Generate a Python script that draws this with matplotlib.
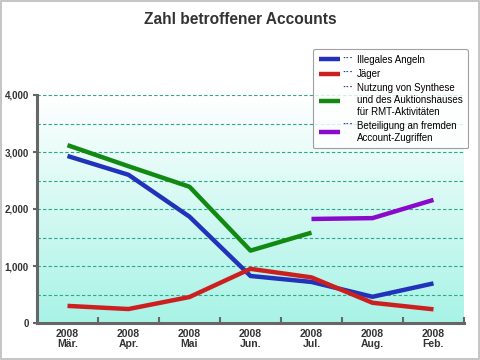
import matplotlib
matplotlib.use('Agg')
import matplotlib.pyplot as plt
import numpy as np
from matplotlib.patches import Rectangle

# data
months = ['2008\nMär.', '2008\nApr.', '2008\nMai', '2008\nJun.', '2008\nJul.', '2008\nAug.', '2008\nFeb.']
angeln = [2930, 2600, 1865, 825, 720, 460, 695]
jaeger = [300, 245, 456, 950, 800, 355, 240]
rmt = [3120, 2750, 2390, 1270, 1585, np.nan, np.nan]
zugriff = [np.nan, np.nan, np.nan, np.nan, 1825, 1840, 2160]
labels = ['Illegales Angeln', 'Jäger',
          'Nutzung von Synthese\nund des Auktionshauses\nfür RMT-Aktivitäten',
          'Beteiligung an fremden\nAccount-Zugriffen']
colors = ['#2233bb', '#cc2020', '#128a12', '#8a0acc']

plt.rcParams['font.family'] = ['Liberation Sans', 'DejaVu Sans']
fig = plt.figure(figsize=(4.8, 3.6), dpi=100)
ax = fig.add_axes([37/480, 37/360, 427/480, 228/360])

x = np.arange(len(months))

# white at top -> aqua at bottom
grad = np.linspace(1, 0, 256).reshape(-1, 1)
cmap = matplotlib.colors.LinearSegmentedColormap.from_list('bg', ['#ffffff', '#a8f3e6'])
ax.imshow(grad, aspect='auto', cmap=cmap, extent=(-0.5, len(months) - 0.5, 0, 4000),
          origin='lower', zorder=0)
ax.set_xlim(-0.5, len(months) - 0.5)
ax.set_ylim(0, 4000)

for yv in range(500, 4001, 500):
    ax.axhline(yv, color='#2aa88a', lw=0.8, ls=(0, (3, 2)), zorder=1)

series = [angeln, jaeger, rmt, zugriff]
handles = []
for vals, c, lab in zip(series, colors, labels):
    h, = ax.plot(x, vals, color=c, lw=3.2, solid_capstyle='butt', zorder=3, label=lab)
    handles.append(h)

ax.set_yticks(range(0, 4001, 1000))
ax.set_yticklabels(['0', '1,000', '2,000', '3,000', '4,000'], fontsize=7, color='#333333', fontweight='bold')
ax.set_xticks(x)
ax.set_xticklabels(months, fontsize=7.5, color='#333333', fontweight='bold', linespacing=1.1)
ax.tick_params(axis='x', length=0, pad=4)
ax.tick_params(axis='y', length=3, width=1.5, color='#666666', pad=3)
ax.set_xticks(np.arange(0.5, len(months) - 0.5 + 0.01, 1), minor=True)
ax.tick_params(axis='x', which='minor', direction='in', length=4, width=1.5, color='#666666')

for s in ['top', 'right']:
    ax.spines[s].set_visible(False)
for s in ['left', 'bottom']:
    ax.spines[s].set_color('#666666')
    ax.spines[s].set_linewidth(2.2)

fig.text(0.5, 0.945, 'Zahl betroffener Accounts', ha='center', va='center',
         fontsize=11.2, fontweight='bold', color='#333333')

leg = fig.legend(handles=handles, loc='upper left', bbox_to_anchor=(308/480, 1 - 44/360),
                 fontsize=7, handlelength=2.2, handletextpad=1.7, labelspacing=0.45,
                 frameon=True, fancybox=True, edgecolor='#888888', borderpad=0.6)
leg.get_frame().set_linewidth(0.8)

# dotted leader between each legend line and its text
fig.canvas.draw()
inv = fig.transFigure.inverted()
for t in leg.get_texts():
    bb = t.get_window_extent()
    x0, y1 = inv.transform((bb.x0 - 3, bb.y1 - 7))
    fig.text(x0, y1, '···', ha='right', va='baseline', fontsize=8, fontweight='bold',
             color='#223399', zorder=10)

fig.patches.append(Rectangle((0.002, 0.003), 0.995, 0.994, transform=fig.transFigure,
                             fill=False, edgecolor='#bbbbbb', lw=1.2))

fig.savefig('out.png', dpi=100)
